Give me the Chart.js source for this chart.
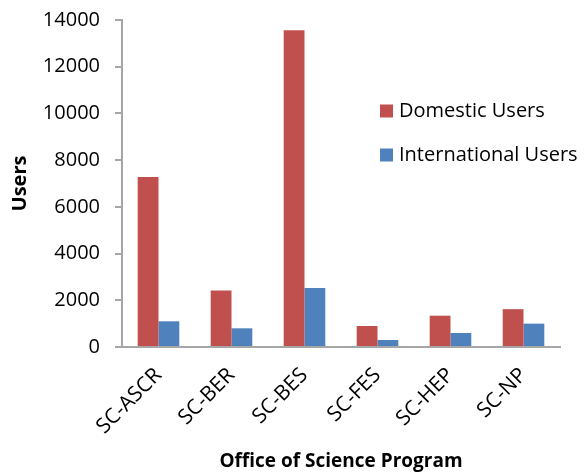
<!DOCTYPE html>
<html>
<head>
<meta charset="utf-8">
<script src="https://cdn.jsdelivr.net/npm/chart.js@4.4.1/dist/chart.umd.min.js"></script>
<style>
  html, body { margin: 0; padding: 0; background: #fff; }
  #wrap { width: 584px; height: 473px; }
</style>
</head>
<body>
<div id="wrap"><canvas id="usersChart" width="584" height="473"></canvas></div>
<script>
// values
const programs = ["SC-ASCR", "SC-BER", "SC-BES", "SC-FES", "SC-HEP", "SC-NP"];
const domesticUsers = [7280, 2420, 13560, 900, 1340, 1620];
const internationalUsers = [1100, 800, 2530, 300, 600, 1000];
const yMin = 0, yMax = 14000, yStep = 2000;

const FONT = "'Open Sans', sans-serif";
const axisGray = "#a6a6a6";

// legend sits inside the plot, on the right
const insideLegend = {
  id: "insideLegend",
  afterDraw(chart) {
    const ctx = chart.ctx;
    const x = 380, y0 = 111, gap = 44;
    ctx.save();
    ctx.font = "20px " + FONT;
    ctx.textBaseline = "middle";
    chart.data.datasets.forEach((ds, i) => {
      const y = y0 + i * gap;
      ctx.fillStyle = ds.backgroundColor;
      ctx.fillRect(x, y - 6.5, 13, 13);
      ctx.fillStyle = "#000";
      ctx.fillText(ds.label, x + 19, y);
    });
    ctx.restore();
  }
};

const ctx = document.getElementById("usersChart").getContext("2d");
new Chart(ctx, {
  type: "bar",
  data: {
    labels: programs,
    datasets: [
      { label: "Domestic Users", data: domesticUsers, backgroundColor: "#C0504D" },
      { label: "International Users", data: internationalUsers, backgroundColor: "#4F81BD" }
    ]
  },
  options: {
    responsive: false,
    animation: false,
    layout: { padding: { top: 20, right: 24, left: 0, bottom: 0 } },
    datasets: {
      bar: { categoryPercentage: 0.57, barPercentage: 1.0 }
    },
    plugins: {
      legend: { display: false },
      tooltip: { enabled: false }
    },
    scales: {
      y: {
        min: yMin,
        max: yMax,
        ticks: {
          stepSize: yStep, color: "#000", font: { family: FONT, size: 20 }, padding: 15,
          callback: (v) => String(v)
        },
        grid: { drawOnChartArea: false, tickLength: 7, color: axisGray, lineWidth: 2 },
        border: { color: axisGray, width: 2 },
        title: { display: true, text: "Users", color: "#000", font: { family: FONT, size: 20, weight: "bold" }, padding: { top: 8, bottom: 0 } },
        afterFit(scale) {
          scale.width = 122;
          scale.paddingTop = 0;
          scale.paddingBottom = 0;
        }
      },
      x: {
        ticks: { color: "#000", font: { family: FONT, size: 21 }, maxRotation: 45, minRotation: 45, padding: 8 },
        grid: { display: false },
        border: { display: true, color: axisGray, width: 2 },
        title: { display: true, text: "Office of Science Program", color: "#000", font: { family: FONT, size: 19, weight: "bold" }, padding: { top: 0, bottom: 0 } },
        afterFit(scale) { scale.height = 473 - 347; }
      }
    }
  },
  plugins: [insideLegend]
});
</script>
</body>
</html>
